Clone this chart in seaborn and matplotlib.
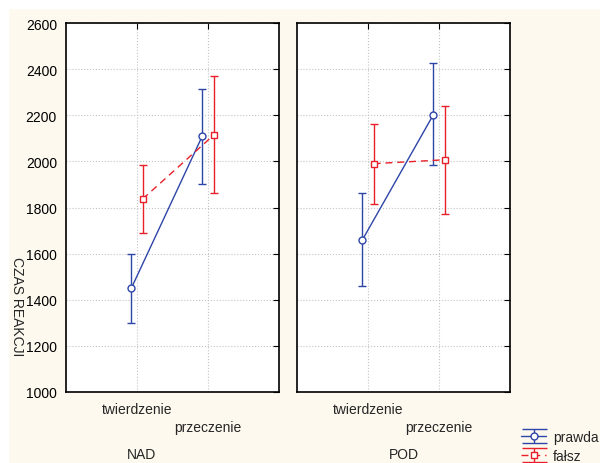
import matplotlib
matplotlib.use("Agg")
import matplotlib.pyplot as plt
import matplotlib.transforms as mtransforms
from matplotlib.patches import Rectangle
import seaborn as sns
import pandas as pd
import numpy as np

# data
panels = ["NAD", "POD"]
conditions = ["twierdzenie", "przeczenie"]
groups = ["prawda", "fałsz"]

nad_prawda = [1450, 2110]
nad_prawda_lo = [1300, 1902]
nad_prawda_hi = [1600, 2314]
nad_falsz = [1837, 2114]
nad_falsz_lo = [1689, 1861]
nad_falsz_hi = [1986, 2369]

pod_prawda = [1659, 2202]
pod_prawda_lo = [1461, 1984]
pod_prawda_hi = [1861, 2425]
pod_falsz = [1990, 2007]
pod_falsz_lo = [1815, 1772]
pod_falsz_hi = [2163, 2239]

series = {
    ("NAD", "prawda"): (nad_prawda, nad_prawda_lo, nad_prawda_hi),
    ("NAD", "fałsz"): (nad_falsz, nad_falsz_lo, nad_falsz_hi),
    ("POD", "prawda"): (pod_prawda, pod_prawda_lo, pod_prawda_hi),
    ("POD", "fałsz"): (pod_falsz, pod_falsz_lo, pod_falsz_hi),
}

rows = []
for (panel, group), (m, lo, hi) in series.items():
    for i, cond in enumerate(conditions):
        rows.append({"panel": panel, "group": group, "condition": cond,
                     "idx": i, "mean": m[i], "lo": lo[i], "hi": hi[i]})
df = pd.DataFrame(rows)

styles = {
    "prawda": dict(color="#2E45A8", marker="o", ls="-", off=-0.08),
    "fałsz": dict(color="#E8202A", marker="s", ls=(0, (5, 3.5)), off=0.08),
}
df["xpos"] = df["idx"] + df["group"].map({g: styles[g]["off"] for g in groups})

sns.set_style("white")
plt.rcParams["font.family"] = ["Liberation Sans", "DejaVu Sans"]
plt.rcParams["font.size"] = 10

fig = plt.figure(figsize=(6, 4.64), dpi=100, facecolor="#FDF9EF")
# white strip at the top and left edge
fig.patches.append(Rectangle((0, 1 - 9 / 464), 1, 9 / 464, transform=fig.transFigure,
                             color="white", zorder=0))
fig.patches.append(Rectangle((0, 0), 8 / 600, 1, transform=fig.transFigure,
                             color="white", zorder=0))

bottom = 1 - 393 / 464
height = (393 - 24) / 464
ax_pos = [(66 / 600, bottom, 213 / 600, height), (297 / 600, bottom, 213 / 600, height)]
label_x = [141 / 600, 404 / 600]

handles = []
for k, panel in enumerate(panels):
    ax = fig.add_axes(ax_pos[k])
    ax.set_facecolor("white")
    for group in groups:
        st = styles[group]
        sub = df[(df["panel"] == panel) & (df["group"] == group)]
        sns.lineplot(data=sub, x="xpos", y="mean", ax=ax, color=st["color"],
                     errorbar=None, lw=1, linestyle=st["ls"], marker=st["marker"],
                     ms=5, mfc="white", mec=st["color"], mew=1, zorder=4)
        ax.errorbar(sub["xpos"], sub["mean"],
                    yerr=[sub["mean"] - sub["lo"], sub["hi"] - sub["mean"]],
                    fmt="none", ecolor=st["color"], elinewidth=1, capsize=3,
                    capthick=1, zorder=3)
    ax.set_xlim(-1, 2)
    ax.set_ylim(1000, 2600)
    ax.set_yticks(np.arange(1000, 2601, 200))
    ax.set_xticks([0, 1])
    ax.set_xticklabels(["", ""])
    ax.set_xlabel("")
    ax.set_ylabel("")
    ax.grid(True, color="#C4C4C4", ls=":", lw=0.8)
    ax.tick_params(direction="in", top=True, right=True, length=4, width=0.8,
                   colors="black", labelsize=10, pad=6.5)
    if k == 1:
        ax.tick_params(labelleft=False)
    for sp in ax.spines.values():
        sp.set_color("black")
        sp.set_linewidth(1.2)
    trans = mtransforms.blended_transform_factory(ax.transData, fig.transFigure)
    ax.text(0, 1 - 410 / 464, conditions[0], transform=trans, ha="center", va="center", fontsize=10)
    ax.text(1, 1 - 428 / 464, conditions[1], transform=trans, ha="center", va="center", fontsize=10)
    fig.text(label_x[k], 1 - 448 / 464, panel, ha="center", va="top", fontsize=10)

fig.text(17 / 600, 1 - 307 / 464, "CZAS REAKCJI", rotation=270, ha="center",
         va="center", fontsize=10)

# legend handles
for group in groups:
    st = styles[group]
    h = ax.errorbar([np.nan], [np.nan], yerr=[[1]], color=st["color"], ls=st["ls"],
                    marker=st["marker"], ms=5, mfc="white", mec=st["color"], lw=1,
                    capsize=9, capthick=1, label=group)
    handles.append(h)
fig.legend(handles, groups, loc="upper left", bbox_to_anchor=(521 / 600, 1 - 431 / 464),
           frameon=False, fontsize=10, handlelength=1.8, handletextpad=0.5,
           labelspacing=0.35, borderpad=0, borderaxespad=0)

fig.savefig("out.png", dpi=100, facecolor=fig.get_facecolor())
